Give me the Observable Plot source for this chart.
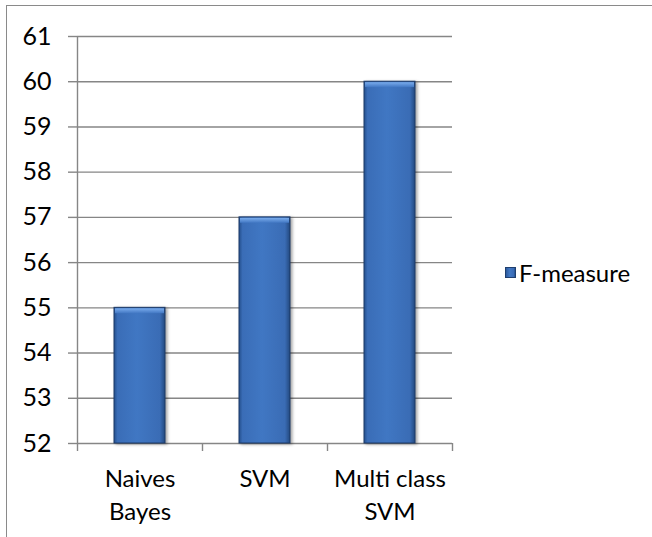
<!DOCTYPE html>
<html>
<head>
<meta charset="utf-8">
<script src="https://cdn.jsdelivr.net/npm/d3@7"></script>
<script src="https://cdn.jsdelivr.net/npm/@observablehq/plot@0.6"></script>
<style>
  html, body { margin: 0; padding: 0; background: #fff; overflow: hidden; }
  #wrap { position: relative; width: 652px; height: 537px; overflow: hidden; font-family: Lato, "Open Sans", sans-serif; }
  #frame { position: absolute; left: 6px; top: 5px; width: 900px; height: 900px; border: 1.6px solid #8a8a8a; box-sizing: border-box; }
  #chart { position: absolute; left: 0; top: 0; }
  #legend { position: absolute; left: 505px; top: 258px; display: flex; align-items: center; font-size: 24px; color: #000; white-space: nowrap; }
  #legend .sw { width: 11px; height: 11px; margin-right: 3px; background: linear-gradient(90deg, #2c5a9c, #4178c4 40%, #3a6cb6 85%, #24508c); border: 1px solid #1f3f6f; box-sizing: border-box; }
  svg g[aria-label="rect"].bars { filter: drop-shadow(2px 1px 1.5px rgba(0,0,0,0.35)); }
</style>
</head>
<body>
<div id="wrap">
  <div id="frame"></div>
  <div id="chart"></div>
  <div id="legend"><span class="sw"></span><span>F-measure</span></div>
</div>
<script>
const categories = ["Naives\nBayes", "SVM", "Multi class\nSVM"];
const fMeasure = [55, 57, 60];
const yTicks = [52, 53, 54, 55, 56, 57, 58, 59, 60, 61];
const xBoundaries = [0, 1, 2, 3];

const gridColor = "#868686";
const idx = categories.map((d, i) => i);

const chart = Plot.plot({
  width: 652,
  height: 537,
  marginLeft: 77,
  marginRight: 200,
  marginTop: 36,
  marginBottom: 94,
  style: { fontFamily: "Lato, 'Open Sans', sans-serif", fontSize: "24px", color: "#000", background: "transparent" },
  x: { domain: [xBoundaries[0], xBoundaries[xBoundaries.length - 1]], axis: null },
  y: { domain: [yTicks[0], yTicks[yTicks.length - 1]], axis: null },
  marks: [
    Plot.ruleY(yTicks, { stroke: gridColor, strokeWidth: 1.4 }),
    Plot.axisY({ ticks: yTicks, tickSize: 9, tickPadding: 17, tickFormat: d => String(d), stroke: gridColor, strokeWidth: 1.4, fill: "#000", fontSize: 25, strokeOpacity: 1 }),
    Plot.ruleX([xBoundaries[0]], { y1: yTicks[0], y2: yTicks[yTicks.length - 1], stroke: gridColor, strokeWidth: 1.4 }),
    Plot.axisX({ ticks: xBoundaries, tickSize: 8, tickFormat: () => "", stroke: gridColor, strokeWidth: 1.4, strokeOpacity: 1 }),
    Plot.rect(idx, {
      x1: i => i, x2: i => i + 1,
      y1: yTicks[0], y2: i => fMeasure[i],
      insetLeft: 37, insetRight: 37,
      fill: "url(#barGrad)", stroke: "#1c3a68", strokeWidth: 1,
      className: "bars"
    }),
    Plot.rect(idx, {
      x1: i => i, x2: i => i + 1,
      y1: i => fMeasure[i] - 0.13, y2: i => fMeasure[i],
      insetLeft: 38, insetRight: 38, insetTop: 1,
      fill: "url(#bevelGrad)"
    }),
    Plot.text(idx, {
      x: i => i + 0.5, y: yTicks[0],
      text: i => categories[i],
      lineAnchor: "top", lineHeight: 1.38, dy: 20,
      fill: "#000", fontSize: 24
    })
  ]
});

// gradient definitions for the bevelled bars
const svg = d3.select(chart);
const defs = svg.insert("defs", ":first-child");
const g1 = defs.append("linearGradient").attr("id", "barGrad").attr("x1", "0").attr("x2", "1").attr("y1", "0").attr("y2", "0");
[["0%", "#244f8c"], ["7%", "#3a6db7"], ["45%", "#4077c3"], ["90%", "#3a6cb5"], ["100%", "#23497f"]]
  .forEach(([o, c]) => g1.append("stop").attr("offset", o).attr("stop-color", c));
const g2 = defs.append("linearGradient").attr("id", "bevelGrad").attr("x1", "0").attr("x2", "0").attr("y1", "0").attr("y2", "1");
[["0%", "#7aacec"], ["100%", "#4278c4"]]
  .forEach(([o, c]) => g2.append("stop").attr("offset", o).attr("stop-color", c));

document.getElementById("chart").appendChild(chart);
</script>
</body>
</html>
